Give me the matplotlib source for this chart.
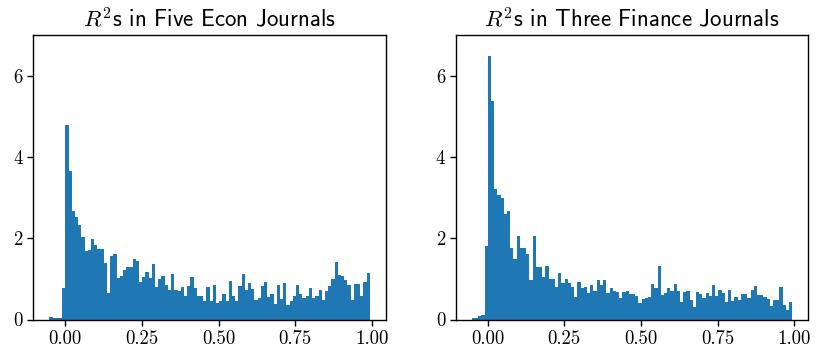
import numpy as np
import matplotlib
matplotlib.use("Agg")
import matplotlib.pyplot as plt

# ---- data (density heights per bin) ----
econ_range = (-0.052, 0.993)
econ_density = [
    0.06, 0.03, 0.03, 0.03, 0.77, 4.79, 3.66, 2.67, 2.52, 2.32,
    2.03, 1.68, 1.71, 1.97, 1.83, 1.73, 1.73, 1.39, 0.66, 1.56,
    1.60, 1.03, 1.07, 1.22, 1.30, 1.30, 1.48, 1.43, 0.92, 1.05,
    1.17, 1.03, 1.36, 0.80, 1.00, 1.07, 0.86, 0.73, 1.11, 0.73,
    0.69, 0.79, 0.59, 0.82, 1.05, 0.77, 0.57, 0.59, 0.45, 0.79,
    0.45, 0.86, 0.41, 0.45, 0.62, 0.45, 0.95, 0.59, 0.45, 0.82,
    1.12, 0.73, 0.91, 0.74, 0.48, 0.52, 0.82, 0.92, 0.55, 0.62,
    0.37, 0.86, 0.50, 0.90, 0.35, 0.46, 0.57, 0.84, 0.62, 0.52,
    0.57, 0.78, 0.52, 0.59, 0.73, 0.49, 0.71, 0.82, 0.99, 1.41,
    1.09, 1.07, 0.97, 0.86, 0.48, 0.87, 0.87, 0.58, 0.92, 1.14,
]

finance_range = (-0.052, 0.993)
finance_density = [
    0.03, 0.04, 0.08, 0.12, 1.80, 6.48, 5.37, 3.21, 3.07, 2.99,
    2.59, 2.66, 1.77, 1.48, 2.06, 1.75, 1.75, 1.60, 0.98, 2.06,
    1.30, 1.30, 1.04, 1.31, 1.00, 1.00, 0.80, 1.14, 0.90, 1.00,
    0.89, 0.80, 0.55, 0.93, 0.77, 0.80, 0.66, 0.85, 0.71, 0.98,
    0.84, 0.96, 0.66, 0.78, 0.71, 0.67, 0.52, 0.67, 0.69, 0.62,
    0.62, 0.58, 0.41, 0.50, 0.52, 0.55, 0.87, 0.78, 1.32, 0.60,
    0.64, 0.77, 0.71, 0.87, 0.70, 0.42, 0.68, 0.70, 0.47, 0.31,
    0.68, 0.63, 0.53, 0.66, 0.58, 0.85, 0.58, 0.72, 0.65, 0.44,
    0.73, 0.45, 0.55, 0.48, 0.63, 0.63, 0.53, 0.72, 0.82, 0.61,
    0.60, 0.55, 0.50, 0.32, 0.47, 0.48, 0.79, 0.36, 0.24, 0.42,
]

titles = [r"$R^2$s in Five Econ Journals", r"$R^2$s in Three Finance Journals"]
x_ticks = [0.0, 0.25, 0.5, 0.75, 1.0]
x_ticklabels = ["0.00", "0.25", "0.50", "0.75", "1.00"]
y_ticks = [0, 2, 4, 6]
y_ticklabels = ["0", "2", "4", "6"]

plt.rcParams["mathtext.fontset"] = "cm"

W, H = 817, 349
fig = plt.figure(figsize=(W / 100, H / 100), dpi=100)
ax_boxes = [
    [33.3 / W, (H - 319.5) / H, 352.5 / W, 284.5 / H],
    [455.7 / W, (H - 319.5) / H, 352.5 / W, 284.5 / H],
]

datasets = [(econ_range, econ_density), (finance_range, finance_density)]
for box, (rng, dens), title in zip(ax_boxes, datasets, titles):
    ax = fig.add_axes(box)
    edges = np.linspace(rng[0], rng[1], len(dens) + 1)
    centers = 0.5 * (edges[:-1] + edges[1:])
    ax.hist(centers, bins=edges, weights=dens, color="#1f77b4")
    ax.set_ylim(0, 7)
    ax.set_xticks(x_ticks)
    ax.set_xticklabels(x_ticklabels, fontfamily="cmr10", fontsize=13.5)
    ax.set_yticks(y_ticks)
    ax.set_yticklabels(y_ticklabels, fontfamily="cmr10", fontsize=13.5)
    ax.tick_params(length=4, width=1)
    for s in ax.spines.values():
        s.set_linewidth(1.0)
    ax.set_title(title, fontfamily="cmss10", fontsize=16.5, pad=6)

fig.savefig("out.png", dpi=100)
